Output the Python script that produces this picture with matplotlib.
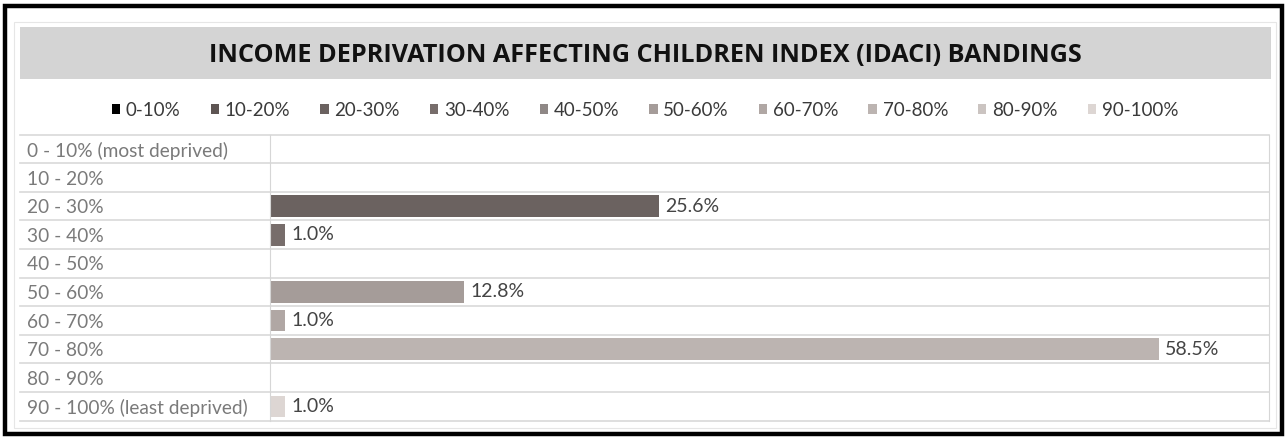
import matplotlib.pyplot as plt
from matplotlib.patches import Rectangle, Patch

# data
bands = ['0 - 10% (most deprived)', '10 - 20%', '20 - 30%', '30 - 40%', '40 - 50%',
         '50 - 60%', '60 - 70%', '70 - 80%', '80 - 90%', '90 - 100% (least deprived)']
shares = [0, 0, 25.6, 1.0, 0, 12.8, 1.0, 58.5, 0, 1.0]
legend_labels = ['0-10%', '10-20%', '20-30%', '30-40%', '40-50%',
                 '50-60%', '60-70%', '70-80%', '80-90%', '90-100%']
colors = ['#000000', '#5e5553', '#6b6260', '#776d6b', '#8f8886',
          '#a59c99', '#b0a7a4', '#bcb4b1', '#cbc4c1', '#ddd6d3']

W, H = 1287, 437
plt.rcParams['font.family'] = ['Lato', 'DejaVu Sans']
fig = plt.figure(figsize=(W / 100, H / 100), dpi=100)

def fx(px):
    return px / W

def fy(py):
    return 1 - py / H

# outer frames
fig.patches.append(Rectangle((fx(5), fy(434)), fx(1277), 428 / H, transform=fig.transFigure,
                             fill=False, edgecolor='black', lw=3.2))
fig.patches.append(Rectangle((fx(14), fy(428)), fx(1262), 406 / H, transform=fig.transFigure,
                             fill=False, edgecolor='#e6e6e6', lw=0.8))

# title band
fig.patches.append(Rectangle((fx(20), fy(78.7)), fx(1251), 51.4 / H, transform=fig.transFigure,
                             facecolor='#d4d4d4', edgecolor='none'))
fig.text(fx(645), fy(55), 'INCOME DEPRIVATION AFFECTING CHILDREN INDEX (IDACI) BANDINGS',
         ha='center', va='center', fontsize=18.2, fontweight='bold',
         family=['Open Sans', 'DejaVu Sans'], color='#111111')

# legend
handles = [Patch(facecolor=c, edgecolor='none') for c in colors]
fig.legend(handles, legend_labels, ncol=10, loc='center', bbox_to_anchor=(fx(645), fy(110)),
           frameon=False, fontsize=13.5, handlelength=0.45, handleheight=0.45,
           handletextpad=0.3, columnspacing=1.6, labelcolor='#3a3a3a')

# bars
x0, x1 = 270, 1269
ax = fig.add_axes([fx(x0), fy(420.7), (x1 - x0) / W, (420.7 - 134.7) / H])
ypos = list(range(len(bands)))
ax.barh(ypos, shares, height=0.76, color=[colors[i] for i in ypos])
ax.set_xlim(0, (x1 - x0) / 15.19)
ax.set_ylim(len(bands) - 0.5, -0.5)
for y, v in zip(ypos, shares):
    if v > 0:
        ax.text(v + 0.4, y, f'{v:.1f}%', va='center', ha='left', fontsize=14, color='#444444')

for s in ['top', 'bottom']:
    ax.spines[s].set_visible(False)
ax.spines['left'].set_color('#d6d6d6')
ax.spines['right'].set_color('#d6d6d6')
ax.set_xticks([])
ax.set_yticks(ypos)
ax.set_yticklabels(bands, ha='left', color='#7a7a7a', fontsize=13.8)
ax.tick_params(axis='y', length=0, pad=(x0 - 27) * 0.72)

# row lines across label column and plot
trans = ax.get_yaxis_transform()
left_ax = (20 - x0) / (x1 - x0)
for k in range(len(bands) + 1):
    ax.plot([left_ax, 1], [k - 0.5, k - 0.5], transform=trans, color='#d9d9d9',
            lw=1.2, clip_on=False)

fig.savefig('out.png', dpi=100)
